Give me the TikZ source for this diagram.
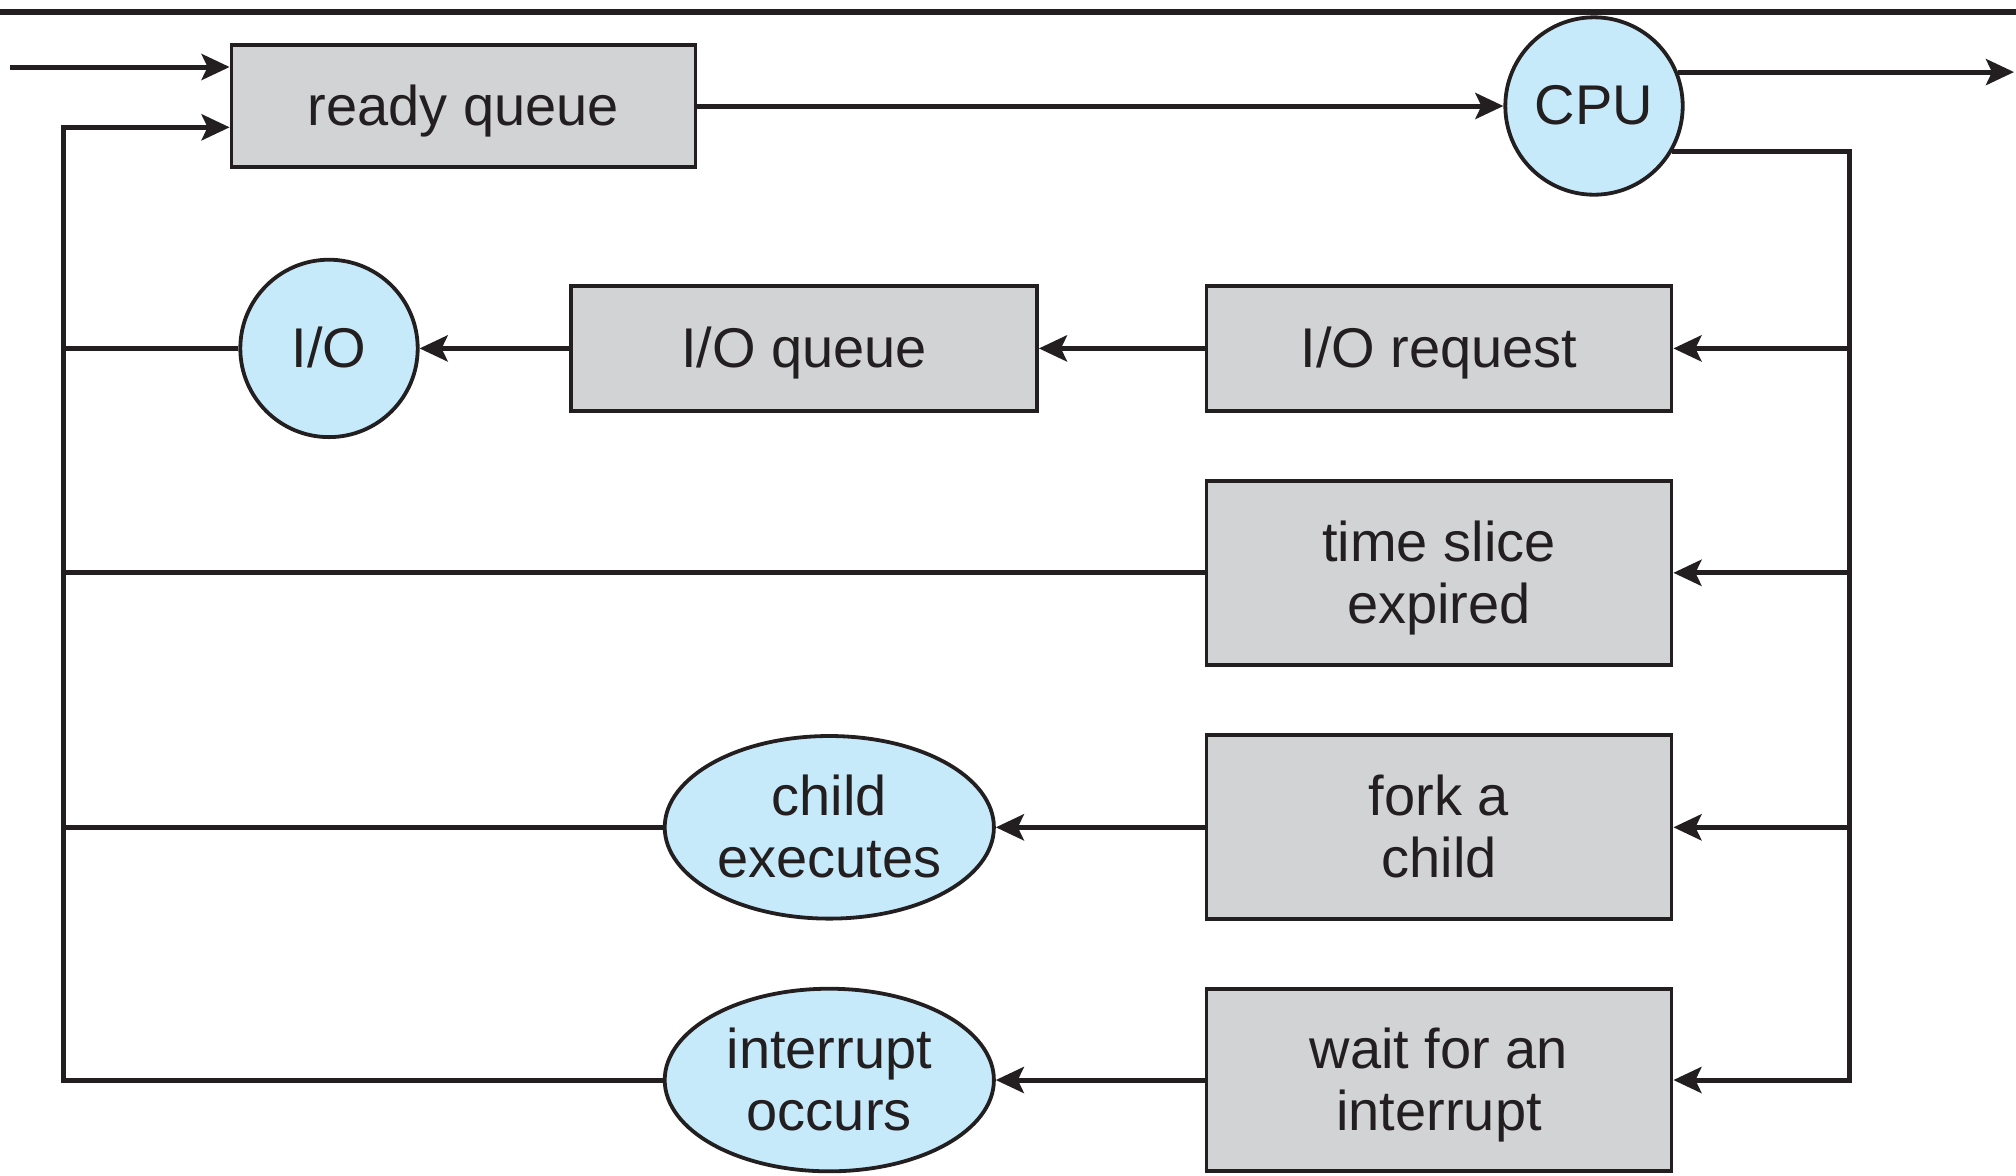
\documentclass[tikz,border=0pt]{standalone}
\usepackage{fontspec}
\setmainfont{Liberation Sans}
\usetikzlibrary{arrows.meta,shapes.geometric}
\definecolor{boxgray}{RGB}{209,211,212}
\definecolor{cblue}{RGB}{199,234,251}
\definecolor{ink}{RGB}{35,31,32}
\tikzset{
  lbl/.style={font=\fontsize{28}{31}\selectfont, text=ink, align=center, inner sep=0pt, text depth=1pt},
  qbox/.style={lbl, draw=ink, line width=1.9pt, fill=boxgray, rectangle},
  res/.style={lbl, draw=ink, line width=1.9pt, fill=cblue, circle},
  evt/.style={lbl, draw=ink, line width=1.9pt, fill=cblue, ellipse, minimum width=164.6pt, minimum height=91.3pt},
  conn/.style={draw=ink, line width=2.5pt},
  arr/.style={conn, -{Stealth[length=14pt, width=13pt, inset=3pt]}},
}
\begin{document}
\begin{tikzpicture}[x=0.5pt, y=-0.5pt]
\useasboundingbox (0,0) rectangle (2016,1175);
% top rule
\draw[ink, line width=3.2pt] (0,12) -- (2016,12);

% nodes
\node[qbox, minimum width=232pt, minimum height=61pt] (rq) at (463.5,106) {ready queue};
\node[res, minimum size=88.7pt] (cpu) at (1594,106) {CPU};
\node[qbox, minimum width=232.5pt, minimum height=62.5pt] (iorq) at (1439,348.4) {I/O request};
\node[qbox, minimum width=233pt, minimum height=62.5pt] (ioq) at (804,348.4) {I/O queue};
\node[res, minimum size=88.7pt] (io) at (329,348.4) {I/O};
\node[qbox, minimum width=232.5pt, minimum height=92pt] (ts) at (1439,572.8) {time slice\\expired};
\node[qbox, minimum width=232.5pt, minimum height=92pt] (fork) at (1439,827.3) {fork a\\child};
\node[evt] (ce) at (829.3,827.3) {child\\executes};
\node[qbox, minimum width=232.5pt, minimum height=91.3pt] (wait) at (1439,1080) {wait for an\\interrupt};
\node[evt] (ic) at (829.3,1080) {interrupt\\occurs};

% helper coordinates
\coordinate (src) at (10,67);
\coordinate (lt) at (63,127.3);
\coordinate (rx) at (1849,1080);
\coordinate (sink) at (2014,73.3);

% top flow
\draw[arr] (src) -- (src -| rq.west);
\draw[arr] (rq.east |- cpu.west) -- (cpu.west);
\draw[arr] (cpu.22) -- (cpu.22 -| sink);

% CPU to right bus
\draw[arr] (cpu.-30) -| (rx) -- (wait.east);
\draw[arr] (iorq.east -| rx) -- (iorq.east);
\draw[arr] (ts.east -| rx) -- (ts.east);
\draw[arr] (fork.east -| rx) -- (fork.east);

% rows
\draw[arr] (iorq.west) -- (ioq.east);
\draw[arr] (ioq.west) -- (io.east);
\draw[arr] (fork.west) -- (ce.east);
\draw[arr] (wait.west) -- (ic.east);

% left return bus
\draw[arr] (ic.west) -| (lt) -- (lt -| rq.west);
\draw[conn] (io.west) -- (io.west -| lt);
\draw[conn] (ts.west) -- (ts.west -| lt);
\draw[conn] (ce.west) -- (ce.west -| lt);
\end{tikzpicture}
\end{document}
